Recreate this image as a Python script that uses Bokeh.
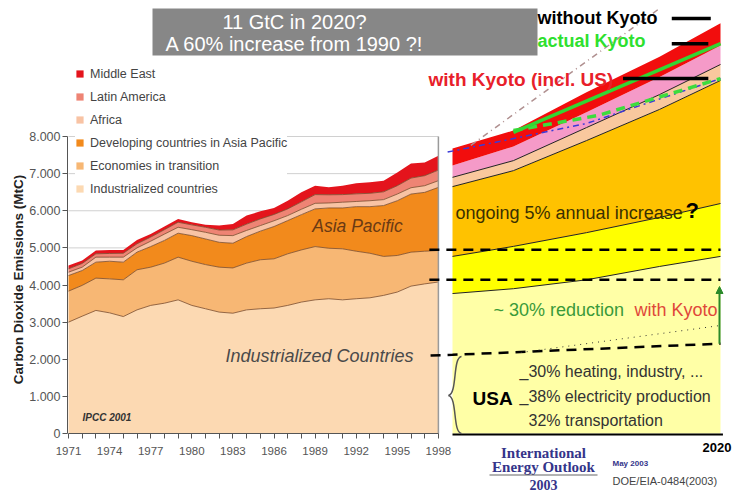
import math
from bokeh.plotting import figure
from bokeh.models import (Range1d, LinearAxis, FixedTicker, Label, BoxAnnotation, Arrow,
                          NormalHead, ColumnDataSource, Legend, LegendItem)
from bokeh.embed import file_html
from bokeh.resources import INLINE

# ---------------- data ----------------
years = list(range(1971, 1999))
industrialized = [3000, 3160, 3315, 3250, 3150, 3330, 3450, 3510, 3600, 3450, 3360, 3270, 3240, 3330,
                  3360, 3380, 3450, 3540, 3600, 3630, 3600, 3630, 3655, 3720, 3810, 3970, 4030, 4080]
transition = [835, 830, 870, 915, 990, 1080, 1030, 1080, 1150, 1190, 1190, 1210, 1220, 1260,
              1320, 1325, 1390, 1405, 1435, 1360, 1375, 1280, 1200, 1050, 985, 915, 880, 850]
asia_pacific = [420, 400, 430, 475, 475, 475, 555, 610, 645, 690, 690, 670, 665, 715,
                770, 870, 895, 950, 1015, 1085, 1100, 1200, 1255, 1370, 1475, 1565, 1585, 1700]
africa = [90, 90, 135, 110, 135, 115, 145, 170, 160, 160, 180, 190, 205, 165,
          150, 155, 135, 145, 150, 135, 155, 140, 160, 160, 180, 170, 180, 180]
latin_america = [90, 100, 90, 100, 105, 110, 110, 120, 135, 130, 135, 140, 155, 170,
                 180, 170, 180, 200, 235, 220, 205, 205, 200, 210, 225, 260, 270, 285]
middle_east = [90, 80, 90, 90, 90, 105, 85, 85, 90, 70, 70, 120, 160, 230,
               205, 175, 220, 255, 240, 200, 240, 285, 295, 300, 355, 395, 355, 385]
series_names = ["Industrialized countries", "Economies in transition",
                "Developing countries in Asia Pacific", "Africa", "Latin America", "Middle East"]

proj_years = [1998, 2003, 2009, 2015, 2020]
proj_usa_base = [3770, 3900, 4140, 4500, 4770]
proj_industr_rest = [1000, 1140, 1270, 1320, 1425]
proj_asia = [1880, 2040, 2480, 2910, 3315]
proj_africa = [250, 270, 350, 400, 430]
proj_latin = [320, 380, 410, 470, 510]
proj_mideast = [460, 430, 540, 550, 600]

without_kyoto_years = [1999.5, 2015.0]
without_kyoto_vals = [7760, 11450]
actual_kyoto_years = [2003, 2020]
actual_kyoto_vals = [8110, 10500]
with_kyoto_years = [2003, 2010, 2020]
with_kyoto_vals = [8160, 8570, 9560]
trend_years = [1997.6, 2009, 2020]
trend_vals = [7580, 8350, 9560]
marker_levels = [11180, 10500, 9560]
marker_start = [2016.0, 2016.0, 2012.0]
marker_end = [2019.2, 2019.0, 2019.0]
ref_levels = [4950, 4140]
usa_years = [1996.2, 1998, 2020]
usa_vals = [2100, 2120, 2420]
kyoto_red_years = [2003.6, 2020]
kyoto_red_vals = [2180, 2910]
grid_vals = [1000, 2000, 3000, 4000, 5000, 6000, 7000, 8000]
y_ticks = [0, 1000, 2000, 3000, 4000, 5000, 6000, 7000, 8000]
y_tick_labels = ["0", "1.000", "2.000", "3.000", "4.000", "5.000", "6.000", "7.000", "8.000"]

# ---------------- layout helpers (reference pixel -> data) ----------------
W, H = 732, 493
XS = 13.7          # px per year, history panel
FXS = 12.182       # px per year, projection panel
YS = 0.037125      # px per MtC
X0 = 1971 - 68 / XS
FX0 = 1998 - 452 / FXS
Y_BASE = 433


def px(x):
    return X0 + x / XS


def fx(x):
    return FX0 + x / FXS


def py(y):
    return (Y_BASE - y) / YS


FONT = "Liberation Sans"

p = figure(width=W, height=H, x_range=Range1d(px(0), px(W)), y_range=Range1d(py(H), py(0)),
           output_backend="svg", toolbar_location=None, x_axis_type=None, y_axis_type=None,
           min_border_left=0, min_border_right=0, min_border_top=0, min_border_bottom=0)
p.extra_x_ranges = {"future": Range1d(fx(0), fx(W))}
p.outline_line_color = None
p.background_fill_color = "white"

# axes (placed at fixed data locations inside the frame)
xaxis = LinearAxis(ticker=FixedTicker(ticks=years), bounds=(1971, 1998), fixed_location=0)
xaxis.major_label_overrides = {y: (str(y) if (y - 1971) % 3 == 0 else "") for y in years}
xaxis.major_tick_out = 5
xaxis.major_tick_in = 0
xaxis.minor_tick_line_color = None
xaxis.major_label_standoff = 8
xaxis.axis_line_color = "#555555"
xaxis.major_tick_line_color = "#555555"
xaxis.major_label_text_font = FONT
xaxis.major_label_text_font_size = "11.5px"
xaxis.major_label_text_color = "#555555"
p.add_layout(xaxis, "below")

yaxis = LinearAxis(ticker=FixedTicker(ticks=y_ticks), bounds=(0, 8000), fixed_location=px(67))
yaxis.major_label_overrides = dict(zip(y_ticks, y_tick_labels))
yaxis.major_tick_out = 5
yaxis.major_tick_in = 0
yaxis.minor_tick_line_color = None
yaxis.major_label_standoff = 2
yaxis.axis_line_color = "#555555"
yaxis.major_tick_line_color = "#555555"
yaxis.major_label_text_font = FONT
yaxis.major_label_text_font_size = "12.5px"
yaxis.major_label_text_color = "#555555"
p.add_layout(yaxis, "left")

# grid lines (history panel)
p.segment(x0=[1971] * len(grid_vals), y0=grid_vals, x1=[1998] * len(grid_vals), y1=grid_vals,
          line_color="#d0d0d0", line_width=1)

# history stacked areas
hist = ColumnDataSource(dict(year=years, ind=industrialized, tra=transition, asi=asia_pacific,
                             afr=africa, lat=latin_america, mid=middle_east))
stack_cols = ["ind", "tra", "asi", "afr", "lat", "mid"]
hist_colors = ["#fcd9b2", "#f7b774", "#f28a1c", "#f8c3a4", "#ee8474", "#e4141c"]
hist_r = p.varea_stack(stack_cols, x="year", source=hist, color=hist_colors)
p.vline_stack(stack_cols[:5], x="year", source=hist, line_color="#7a4b2a", line_width=1, line_alpha=0.8)
p.line(x=[1998, 1998], y=[0, 8000], line_color="#9a9a9a", line_width=1.5)

# projection stacked areas
proj = ColumnDataSource(dict(year=proj_years, a=proj_usa_base, b=proj_industr_rest, c=proj_asia,
                             d=proj_africa, e=proj_latin, f=proj_mideast))
proj_cols = ["a", "b", "c", "d", "e", "f"]
proj_colors = ["#ffffa6", "#ffff00", "#ffc200", "#f9c89e", "#f59ac8", "#f20d0d"]
p.varea_stack(proj_cols, x="year", source=proj, color=proj_colors, x_range_name="future")
p.vline_stack(proj_cols[:4], x="year", source=proj, line_color="#222222", line_width=1,
              x_range_name="future")
p.line(x=[1998, 2020.2], y=[-30, -30], line_color="black", line_width=2, x_range_name="future")

# projection lines
p.line(x=without_kyoto_years, y=without_kyoto_vals, line_color="#b09090", line_width=1.5,
       line_dash="6 4 1 4", x_range_name="future")
p.line(x=trend_years, y=trend_vals, line_color="#3a3ad8", line_width=1.5, line_dash="6 4 2 4",
       x_range_name="future")
p.line(x=with_kyoto_years, y=with_kyoto_vals, line_color="#3ddc3d", line_width=3.5, line_dash="9 6",
       x_range_name="future")
p.line(x=actual_kyoto_years, y=actual_kyoto_vals, line_color="#33d633", line_width=3.5,
       x_range_name="future")
p.segment(x0=marker_start, y0=marker_levels, x1=marker_end, y1=marker_levels, line_color="black",
          line_width=3.5, x_range_name="future")
for lv in ref_levels:
    p.line(x=[1996.1, 2020], y=[lv, lv], line_color="black", line_width=2.5, line_dash="10 7",
           x_range_name="future")
p.line(x=usa_years, y=usa_vals, line_color="black", line_width=2.5, line_dash="10 7",
       x_range_name="future")
p.line(x=kyoto_red_years, y=kyoto_red_vals, line_color="#333333", line_width=1, line_dash="1 5",
       x_range_name="future")
p.add_layout(Arrow(end=NormalHead(size=7, fill_color="#2a8a2a", line_color="#2a8a2a"),
                   x_start=fx(719), y_start=usa_vals[-1], x_end=fx(719), y_end=py(286),
                   line_color="#2a8a2a", line_width=2, x_range_name="future"))
# brace for USA
p.bezier(x0=[fx(461), fx(448)], y0=[py(356), py(395)], x1=[fx(448), fx(461)], y1=[py(395), py(433)],
         cx0=[fx(452), fx(457)], cy0=[py(357), py(397)], cx1=[fx(457), fx(452)], cy1=[py(393), py(432)],
         line_color="#555555", line_width=1.5, x_range_name="future")

# legend
items = [LegendItem(label=series_names[i], renderers=[hist_r[i]]) for i in range(5, -1, -1)]
legend = Legend(items=items, location=(75, 297), margin=0, padding=4, spacing=8,
                label_height=15, glyph_height=9, glyph_width=9, label_standoff=6,
                label_text_font=FONT, label_text_font_size="12.5px", label_text_color="#444444",
                background_fill_color="white", background_fill_alpha=1.0, border_line_color=None)
p.add_layout(legend)

# title box
p.add_layout(BoxAnnotation(left=px(152), right=px(537), top=py(8), bottom=py(55),
                           fill_color="#878787", fill_alpha=1.0, line_color=None))


def lab(text, x, y, size, color="#333333", align="left", style="normal", font=FONT,
        angle=0.0, rng="default"):
    p.add_layout(Label(x=x, y=y, text=text, text_font=font, text_font_size=size,
                       text_color=color, text_align=align, text_baseline="middle",
                       text_font_style=style, angle=angle, x_range_name=rng))


lab("11 GtC in 2020?", px(294), py(21), "20px", "white", "center")
lab("A 60% increase from 1990 ?!", px(294), py(43), "20px", "white", "center")
lab("without Kyoto", px(537), py(17), "18px", "black", style="bold")
lab("actual Kyoto", px(537), py(40), "18px", "#2ee02e", style="bold")
lab("with Kyoto (incl. US)", px(428), py(79), "19px", "#e8202a", style="bold")

lab("Asia Pacific", px(357), py(225), "17.5px", "#6a3a14", "center", "italic")
lab("Industrialized Countries", px(319), py(355), "18px", "#4a4a4a", "center", "italic")
lab("IPCC 2001", px(82), py(417), "10px", "#333333", style="bold italic")
lab("Carbon Dioxide Emissions (MtC)", px(18), py(279), "13.5px", "#222222", "center", "bold",
    angle=math.pi / 2)

lab("ongoing 5% annual increase", px(455), py(212), "18px", "#3a3000")
lab("?", px(685), py(210), "22px", "black", style="bold")
lab("~ 30% reduction", px(493), py(309), "18px", "#3a9a3a")
lab("with Kyoto", px(717), py(309), "18px", "#e0483a", "right")
lab("USA", px(472), py(398), "19px", "black", style="bold")
lab("_30% heating, industry, ...", px(519), py(371), "16px", "#333333")
lab("_38% electricity production", px(519), py(396), "16px", "#333333")
lab("32% transportation", px(528), py(420), "16px", "#333333")

lab("2020", px(702), py(447), "13px", "black", style="bold")
lab("International", px(543), py(452), "15px", "#34348a", "center", "bold", "Liberation Serif")
lab("Energy Outlook", px(543), py(466), "15px", "#34348a", "center", "bold", "Liberation Serif")
lab("2003", px(543), py(484), "14px", "#34348a", "center", "bold", "Liberation Serif")
lab("May 2003", px(612), py(463), "8px", "#34348a", style="bold")
lab("DOE/EIA-0484(2003)", px(612), py(480), "11px", "#444444")
p.add_layout(BoxAnnotation(left=px(489), right=px(597), top=py(474), bottom=py(475),
                           fill_color="#666666", fill_alpha=1.0, line_color=None))

open("out.html", "w").write(file_html(p, INLINE))
